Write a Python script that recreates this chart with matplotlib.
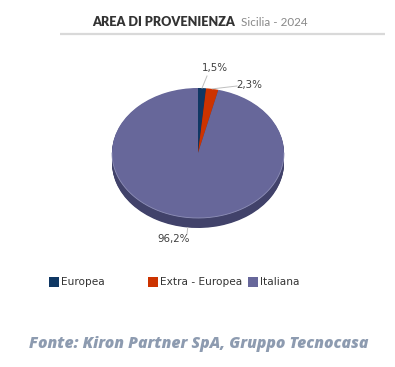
import numpy as np
import matplotlib
matplotlib.use("Agg")
import matplotlib.pyplot as plt

categories = ["Europea", "Extra - Europea", "Italiana"]
values = [1.5, 2.3, 96.2]
labels = ["1,5%", "2,3%", "96,2%"]
colors = ["#0f3763", "#cc3300", "#67679a"]
side_colors = ["#0a2442", "#882200", "#41426a"]

W, H = 395, 367
fig = plt.figure(figsize=(W / 100, H / 100), dpi=100)
fig.patch.set_facecolor("white")

# pie geometry (pixels)
cx, cy, rx, ry, depth = 198, 153, 86, 65, 10
L, R, T, B = 100, 296, 80, 245
pax = fig.add_axes([L / W, (H - B) / H, (R - L) / W, (B - T) / H])
nsteps = 14
for k in range(nsteps, 0, -1):
    off = -depth / ry * k / nsteps
    pax.pie(values, colors=side_colors, startangle=90, counterclock=False,
            radius=1, center=(0, off), wedgeprops=dict(linewidth=0))
wedges, _ = pax.pie(values, colors=colors, startangle=90, counterclock=False,
                    radius=1, center=(0, 0), wedgeprops=dict(linewidth=0))
th = np.linspace(np.pi, 2 * np.pi, 200)
pax.plot(np.cos(th), np.sin(th), color="#8f90b8", lw=0.6)
pax.set_aspect("auto")
pax.set_xlim((L - cx) / rx, (R - cx) / rx)
pax.set_ylim((cy - B) / ry, (cy - T) / ry)
pax.axis("off")

ax = fig.add_axes([0, 0, 1, 1])
ax.set_xlim(0, W)
ax.set_ylim(H, 0)
ax.axis("off")

ax.text(92, 22.5, "AREA DI PROVENIENZA", fontsize=9.05, fontweight="heavy",
        color="#333333", family="Lato", va="center", ha="left")
ax.text(241, 22.5, "Sicilia - 2024", fontsize=8.4, color="#888888",
        family="Lato", va="center", ha="left")
ax.plot([60, 385], [34, 34], color="#d9d9d9", lw=1.6, solid_capstyle="butt")

label_pos = [(215, 68), (249, 85), (174, 239)]
line_end = [(207, 76), (237, 86), (187, 234)]
cum = np.cumsum([0] + values[:-1])
for i, v in enumerate(values):
    ang = np.deg2rad(90 - (cum[i] + v / 2) * 3.6)
    px = cx + rx * np.cos(ang)
    py = cy - ry * np.sin(ang)
    if np.sin(ang) < 0:
        py += depth
    ax.plot([px, line_end[i][0]], [py, line_end[i][1]], color="#bfbfbf", lw=0.7)
    ax.text(label_pos[i][0], label_pos[i][1], labels[i], fontsize=7.4,
            color="#404040", ha="center", va="center", family="DejaVu Sans")

leg_x = [49, 148, 248]
for x, c, name in zip(leg_x, colors, categories):
    ax.add_patch(plt.Rectangle((x, 277), 10, 10, color=c, lw=0))
    ax.text(x + 12, 282, name, fontsize=7.6, color="#333333", va="center",
            ha="left", family="DejaVu Sans")

ax.text(199, 344, "Fonte: Kiron Partner SpA, Gruppo Tecnocasa", fontsize=11.3,
        fontweight=800, style="italic", color="#8d9bb0", family="Open Sans",
        ha="center", va="center")

fig.savefig("out.png", dpi=100, facecolor="white")
